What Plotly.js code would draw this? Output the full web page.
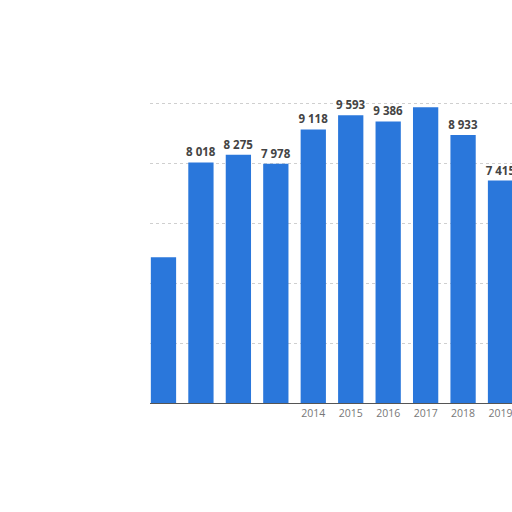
<!DOCTYPE html>
<html>
<head>
<meta charset="utf-8">
<script src="https://cdn.plot.ly/plotly-3.0.1.min.js"></script>
<style>
  html, body { margin: 0; padding: 0; background: #fff; overflow: hidden; width: 512px; height: 512px; }
  #chart { width: 560px; height: 512px; }
</style>
</head>
<body>
<div id="chart"></div>
<script>
// years shown (the chart is cut off on the right after 2019)
var years = [2010, 2011, 2012, 2013, 2014, 2015, 2016, 2017, 2018, 2019];
var values = [4860, 8018, 8275, 7978, 9118, 9593, 9386, 9860, 8933, 7415];
// data labels as printed on the picture (some are hidden)
var labels = ['', '8 018', '8 275', '7 978', '9 118', '9 593', '9 386', '', '8 933', '7 415'];
var tickText = ['', '', '', '', '2014', '2015', '2016', '2017', '2018', '2019'];

var bars = {
    x: years,
    y: values,
    type: 'bar',
    marker: { color: '#2a77db' },
    text: labels,
    textposition: 'outside',
    cliponaxis: false,
    constraintext: 'none',
    textfont: { family: 'Open Sans, sans-serif', size: 11.5, color: '#444', weight: 'bold' },
    hoverinfo: 'none'
};

// the plot runs past the right edge of the 512px window, as in the picture
var layout = {
    width: 560,
    height: 512,
    margin: { l: 150, r: 0, t: 100, b: 109 },
    paper_bgcolor: '#fff',
    plot_bgcolor: '#fff',
    bargap: 0.325,
    showlegend: false,
    xaxis: {
        range: [2009.64, 2020.588],
        tickvals: years,
        ticktext: tickText,
        ticks: '',
        showgrid: false,
        showline: true,
        linecolor: '#555',
        linewidth: 1,
        zeroline: false,
        tickfont: { family: 'Open Sans, sans-serif', size: 10.5, color: '#777' }
    },
    yaxis: {
        range: [0, 10100],
        tickvals: [2000, 4000, 6000, 8000, 10000],
        showticklabels: false,
        showgrid: true,
        gridcolor: '#cfcfcf',
        griddash: 'dot',
        zeroline: false,
        ticks: ''
    }
};

Plotly.newPlot('chart', [bars], layout, { staticPlot: true, displayModeBar: false });
</script>
</body>
</html>
